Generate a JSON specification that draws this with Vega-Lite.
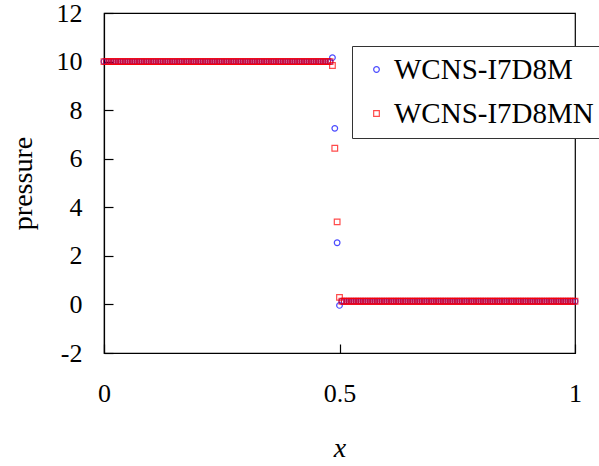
{
"$schema":"https://vega.github.io/schema/vega-lite/v6.json",
"width":471,"height":340,
"autosize":"none",
"padding":{"left":104,"top":13,"right":24,"bottom":113},
"background":"white",
"config":{"font":"Liberation Serif","view":{"stroke":"#000","strokeWidth":1.2}},
"data":{"values":[
{"x":0,"WCNS-I7D8M":10,"WCNS-I7D8MN":10},{"x":0.005,"WCNS-I7D8M":10,"WCNS-I7D8MN":10},{"x":0.01,"WCNS-I7D8M":10,"WCNS-I7D8MN":10},{"x":0.015,"WCNS-I7D8M":10,"WCNS-I7D8MN":10},{"x":0.02,"WCNS-I7D8M":10,"WCNS-I7D8MN":10},{"x":0.025,"WCNS-I7D8M":10,"WCNS-I7D8MN":10},{"x":0.03,"WCNS-I7D8M":10,"WCNS-I7D8MN":10},{"x":0.035,"WCNS-I7D8M":10,"WCNS-I7D8MN":10},{"x":0.04,"WCNS-I7D8M":10,"WCNS-I7D8MN":10},{"x":0.045,"WCNS-I7D8M":10,"WCNS-I7D8MN":10},
{"x":0.05,"WCNS-I7D8M":10,"WCNS-I7D8MN":10},{"x":0.055,"WCNS-I7D8M":10,"WCNS-I7D8MN":10},{"x":0.06,"WCNS-I7D8M":10,"WCNS-I7D8MN":10},{"x":0.065,"WCNS-I7D8M":10,"WCNS-I7D8MN":10},{"x":0.07,"WCNS-I7D8M":10,"WCNS-I7D8MN":10},{"x":0.075,"WCNS-I7D8M":10,"WCNS-I7D8MN":10},{"x":0.08,"WCNS-I7D8M":10,"WCNS-I7D8MN":10},{"x":0.085,"WCNS-I7D8M":10,"WCNS-I7D8MN":10},{"x":0.09,"WCNS-I7D8M":10,"WCNS-I7D8MN":10},{"x":0.095,"WCNS-I7D8M":10,"WCNS-I7D8MN":10},
{"x":0.1,"WCNS-I7D8M":10,"WCNS-I7D8MN":10},{"x":0.105,"WCNS-I7D8M":10,"WCNS-I7D8MN":10},{"x":0.11,"WCNS-I7D8M":10,"WCNS-I7D8MN":10},{"x":0.115,"WCNS-I7D8M":10,"WCNS-I7D8MN":10},{"x":0.12,"WCNS-I7D8M":10,"WCNS-I7D8MN":10},{"x":0.125,"WCNS-I7D8M":10,"WCNS-I7D8MN":10},{"x":0.13,"WCNS-I7D8M":10,"WCNS-I7D8MN":10},{"x":0.135,"WCNS-I7D8M":10,"WCNS-I7D8MN":10},{"x":0.14,"WCNS-I7D8M":10,"WCNS-I7D8MN":10},{"x":0.145,"WCNS-I7D8M":10,"WCNS-I7D8MN":10},
{"x":0.15,"WCNS-I7D8M":10,"WCNS-I7D8MN":10},{"x":0.155,"WCNS-I7D8M":10,"WCNS-I7D8MN":10},{"x":0.16,"WCNS-I7D8M":10,"WCNS-I7D8MN":10},{"x":0.165,"WCNS-I7D8M":10,"WCNS-I7D8MN":10},{"x":0.17,"WCNS-I7D8M":10,"WCNS-I7D8MN":10},{"x":0.175,"WCNS-I7D8M":10,"WCNS-I7D8MN":10},{"x":0.18,"WCNS-I7D8M":10,"WCNS-I7D8MN":10},{"x":0.185,"WCNS-I7D8M":10,"WCNS-I7D8MN":10},{"x":0.19,"WCNS-I7D8M":10,"WCNS-I7D8MN":10},{"x":0.195,"WCNS-I7D8M":10,"WCNS-I7D8MN":10},
{"x":0.2,"WCNS-I7D8M":10,"WCNS-I7D8MN":10},{"x":0.205,"WCNS-I7D8M":10,"WCNS-I7D8MN":10},{"x":0.21,"WCNS-I7D8M":10,"WCNS-I7D8MN":10},{"x":0.215,"WCNS-I7D8M":10,"WCNS-I7D8MN":10},{"x":0.22,"WCNS-I7D8M":10,"WCNS-I7D8MN":10},{"x":0.225,"WCNS-I7D8M":10,"WCNS-I7D8MN":10},{"x":0.23,"WCNS-I7D8M":10,"WCNS-I7D8MN":10},{"x":0.235,"WCNS-I7D8M":10,"WCNS-I7D8MN":10},{"x":0.24,"WCNS-I7D8M":10,"WCNS-I7D8MN":10},{"x":0.245,"WCNS-I7D8M":10,"WCNS-I7D8MN":10},
{"x":0.25,"WCNS-I7D8M":10,"WCNS-I7D8MN":10},{"x":0.255,"WCNS-I7D8M":10,"WCNS-I7D8MN":10},{"x":0.26,"WCNS-I7D8M":10,"WCNS-I7D8MN":10},{"x":0.265,"WCNS-I7D8M":10,"WCNS-I7D8MN":10},{"x":0.27,"WCNS-I7D8M":10,"WCNS-I7D8MN":10},{"x":0.275,"WCNS-I7D8M":10,"WCNS-I7D8MN":10},{"x":0.28,"WCNS-I7D8M":10,"WCNS-I7D8MN":10},{"x":0.285,"WCNS-I7D8M":10,"WCNS-I7D8MN":10},{"x":0.29,"WCNS-I7D8M":10,"WCNS-I7D8MN":10},{"x":0.295,"WCNS-I7D8M":10,"WCNS-I7D8MN":10},
{"x":0.3,"WCNS-I7D8M":10,"WCNS-I7D8MN":10},{"x":0.305,"WCNS-I7D8M":10,"WCNS-I7D8MN":10},{"x":0.31,"WCNS-I7D8M":10,"WCNS-I7D8MN":10},{"x":0.315,"WCNS-I7D8M":10,"WCNS-I7D8MN":10},{"x":0.32,"WCNS-I7D8M":10,"WCNS-I7D8MN":10},{"x":0.325,"WCNS-I7D8M":10,"WCNS-I7D8MN":10},{"x":0.33,"WCNS-I7D8M":10,"WCNS-I7D8MN":10},{"x":0.335,"WCNS-I7D8M":10,"WCNS-I7D8MN":10},{"x":0.34,"WCNS-I7D8M":10,"WCNS-I7D8MN":10},{"x":0.345,"WCNS-I7D8M":10,"WCNS-I7D8MN":10},
{"x":0.35,"WCNS-I7D8M":10,"WCNS-I7D8MN":10},{"x":0.355,"WCNS-I7D8M":10,"WCNS-I7D8MN":10},{"x":0.36,"WCNS-I7D8M":10,"WCNS-I7D8MN":10},{"x":0.365,"WCNS-I7D8M":10,"WCNS-I7D8MN":10},{"x":0.37,"WCNS-I7D8M":10,"WCNS-I7D8MN":10},{"x":0.375,"WCNS-I7D8M":10,"WCNS-I7D8MN":10},{"x":0.38,"WCNS-I7D8M":10,"WCNS-I7D8MN":10},{"x":0.385,"WCNS-I7D8M":10,"WCNS-I7D8MN":10},{"x":0.39,"WCNS-I7D8M":10,"WCNS-I7D8MN":10},{"x":0.395,"WCNS-I7D8M":10,"WCNS-I7D8MN":10},
{"x":0.4,"WCNS-I7D8M":10,"WCNS-I7D8MN":10},{"x":0.405,"WCNS-I7D8M":10,"WCNS-I7D8MN":10},{"x":0.41,"WCNS-I7D8M":10,"WCNS-I7D8MN":10},{"x":0.415,"WCNS-I7D8M":10,"WCNS-I7D8MN":10},{"x":0.42,"WCNS-I7D8M":10,"WCNS-I7D8MN":10},{"x":0.425,"WCNS-I7D8M":10,"WCNS-I7D8MN":10},{"x":0.43,"WCNS-I7D8M":10,"WCNS-I7D8MN":10},{"x":0.435,"WCNS-I7D8M":10,"WCNS-I7D8MN":10},{"x":0.44,"WCNS-I7D8M":10,"WCNS-I7D8MN":10},{"x":0.445,"WCNS-I7D8M":10,"WCNS-I7D8MN":10},
{"x":0.45,"WCNS-I7D8M":10,"WCNS-I7D8MN":10},{"x":0.455,"WCNS-I7D8M":10,"WCNS-I7D8MN":10},{"x":0.46,"WCNS-I7D8M":10,"WCNS-I7D8MN":10},{"x":0.465,"WCNS-I7D8M":10,"WCNS-I7D8MN":10},{"x":0.47,"WCNS-I7D8M":10,"WCNS-I7D8MN":10},{"x":0.475,"WCNS-I7D8M":10,"WCNS-I7D8MN":10},{"x":0.48,"WCNS-I7D8M":10,"WCNS-I7D8MN":10},{"x":0.485,"WCNS-I7D8M":10.16,"WCNS-I7D8MN":9.84},{"x":0.49,"WCNS-I7D8M":7.25,"WCNS-I7D8MN":6.43},{"x":0.495,"WCNS-I7D8M":2.54,"WCNS-I7D8MN":3.4},
{"x":0.5,"WCNS-I7D8M":-0.04,"WCNS-I7D8MN":0.29},{"x":0.505,"WCNS-I7D8M":0.13,"WCNS-I7D8MN":0.13},{"x":0.51,"WCNS-I7D8M":0.13,"WCNS-I7D8MN":0.13},{"x":0.515,"WCNS-I7D8M":0.13,"WCNS-I7D8MN":0.13},{"x":0.52,"WCNS-I7D8M":0.13,"WCNS-I7D8MN":0.13},{"x":0.525,"WCNS-I7D8M":0.13,"WCNS-I7D8MN":0.13},{"x":0.53,"WCNS-I7D8M":0.13,"WCNS-I7D8MN":0.13},{"x":0.535,"WCNS-I7D8M":0.13,"WCNS-I7D8MN":0.13},{"x":0.54,"WCNS-I7D8M":0.13,"WCNS-I7D8MN":0.13},{"x":0.545,"WCNS-I7D8M":0.13,"WCNS-I7D8MN":0.13},
{"x":0.55,"WCNS-I7D8M":0.13,"WCNS-I7D8MN":0.13},{"x":0.555,"WCNS-I7D8M":0.13,"WCNS-I7D8MN":0.13},{"x":0.56,"WCNS-I7D8M":0.13,"WCNS-I7D8MN":0.13},{"x":0.565,"WCNS-I7D8M":0.13,"WCNS-I7D8MN":0.13},{"x":0.57,"WCNS-I7D8M":0.13,"WCNS-I7D8MN":0.13},{"x":0.575,"WCNS-I7D8M":0.13,"WCNS-I7D8MN":0.13},{"x":0.58,"WCNS-I7D8M":0.13,"WCNS-I7D8MN":0.13},{"x":0.585,"WCNS-I7D8M":0.13,"WCNS-I7D8MN":0.13},{"x":0.59,"WCNS-I7D8M":0.13,"WCNS-I7D8MN":0.13},{"x":0.595,"WCNS-I7D8M":0.13,"WCNS-I7D8MN":0.13},
{"x":0.6,"WCNS-I7D8M":0.13,"WCNS-I7D8MN":0.13},{"x":0.605,"WCNS-I7D8M":0.13,"WCNS-I7D8MN":0.13},{"x":0.61,"WCNS-I7D8M":0.13,"WCNS-I7D8MN":0.13},{"x":0.615,"WCNS-I7D8M":0.13,"WCNS-I7D8MN":0.13},{"x":0.62,"WCNS-I7D8M":0.13,"WCNS-I7D8MN":0.13},{"x":0.625,"WCNS-I7D8M":0.13,"WCNS-I7D8MN":0.13},{"x":0.63,"WCNS-I7D8M":0.13,"WCNS-I7D8MN":0.13},{"x":0.635,"WCNS-I7D8M":0.13,"WCNS-I7D8MN":0.13},{"x":0.64,"WCNS-I7D8M":0.13,"WCNS-I7D8MN":0.13},{"x":0.645,"WCNS-I7D8M":0.13,"WCNS-I7D8MN":0.13},
{"x":0.65,"WCNS-I7D8M":0.13,"WCNS-I7D8MN":0.13},{"x":0.655,"WCNS-I7D8M":0.13,"WCNS-I7D8MN":0.13},{"x":0.66,"WCNS-I7D8M":0.13,"WCNS-I7D8MN":0.13},{"x":0.665,"WCNS-I7D8M":0.13,"WCNS-I7D8MN":0.13},{"x":0.67,"WCNS-I7D8M":0.13,"WCNS-I7D8MN":0.13},{"x":0.675,"WCNS-I7D8M":0.13,"WCNS-I7D8MN":0.13},{"x":0.68,"WCNS-I7D8M":0.13,"WCNS-I7D8MN":0.13},{"x":0.685,"WCNS-I7D8M":0.13,"WCNS-I7D8MN":0.13},{"x":0.69,"WCNS-I7D8M":0.13,"WCNS-I7D8MN":0.13},{"x":0.695,"WCNS-I7D8M":0.13,"WCNS-I7D8MN":0.13},
{"x":0.7,"WCNS-I7D8M":0.13,"WCNS-I7D8MN":0.13},{"x":0.705,"WCNS-I7D8M":0.13,"WCNS-I7D8MN":0.13},{"x":0.71,"WCNS-I7D8M":0.13,"WCNS-I7D8MN":0.13},{"x":0.715,"WCNS-I7D8M":0.13,"WCNS-I7D8MN":0.13},{"x":0.72,"WCNS-I7D8M":0.13,"WCNS-I7D8MN":0.13},{"x":0.725,"WCNS-I7D8M":0.13,"WCNS-I7D8MN":0.13},{"x":0.73,"WCNS-I7D8M":0.13,"WCNS-I7D8MN":0.13},{"x":0.735,"WCNS-I7D8M":0.13,"WCNS-I7D8MN":0.13},{"x":0.74,"WCNS-I7D8M":0.13,"WCNS-I7D8MN":0.13},{"x":0.745,"WCNS-I7D8M":0.13,"WCNS-I7D8MN":0.13},
{"x":0.75,"WCNS-I7D8M":0.13,"WCNS-I7D8MN":0.13},{"x":0.755,"WCNS-I7D8M":0.13,"WCNS-I7D8MN":0.13},{"x":0.76,"WCNS-I7D8M":0.13,"WCNS-I7D8MN":0.13},{"x":0.765,"WCNS-I7D8M":0.13,"WCNS-I7D8MN":0.13},{"x":0.77,"WCNS-I7D8M":0.13,"WCNS-I7D8MN":0.13},{"x":0.775,"WCNS-I7D8M":0.13,"WCNS-I7D8MN":0.13},{"x":0.78,"WCNS-I7D8M":0.13,"WCNS-I7D8MN":0.13},{"x":0.785,"WCNS-I7D8M":0.13,"WCNS-I7D8MN":0.13},{"x":0.79,"WCNS-I7D8M":0.13,"WCNS-I7D8MN":0.13},{"x":0.795,"WCNS-I7D8M":0.13,"WCNS-I7D8MN":0.13},
{"x":0.8,"WCNS-I7D8M":0.13,"WCNS-I7D8MN":0.13},{"x":0.805,"WCNS-I7D8M":0.13,"WCNS-I7D8MN":0.13},{"x":0.81,"WCNS-I7D8M":0.13,"WCNS-I7D8MN":0.13},{"x":0.815,"WCNS-I7D8M":0.13,"WCNS-I7D8MN":0.13},{"x":0.82,"WCNS-I7D8M":0.13,"WCNS-I7D8MN":0.13},{"x":0.825,"WCNS-I7D8M":0.13,"WCNS-I7D8MN":0.13},{"x":0.83,"WCNS-I7D8M":0.13,"WCNS-I7D8MN":0.13},{"x":0.835,"WCNS-I7D8M":0.13,"WCNS-I7D8MN":0.13},{"x":0.84,"WCNS-I7D8M":0.13,"WCNS-I7D8MN":0.13},{"x":0.845,"WCNS-I7D8M":0.13,"WCNS-I7D8MN":0.13},
{"x":0.85,"WCNS-I7D8M":0.13,"WCNS-I7D8MN":0.13},{"x":0.855,"WCNS-I7D8M":0.13,"WCNS-I7D8MN":0.13},{"x":0.86,"WCNS-I7D8M":0.13,"WCNS-I7D8MN":0.13},{"x":0.865,"WCNS-I7D8M":0.13,"WCNS-I7D8MN":0.13},{"x":0.87,"WCNS-I7D8M":0.13,"WCNS-I7D8MN":0.13},{"x":0.875,"WCNS-I7D8M":0.13,"WCNS-I7D8MN":0.13},{"x":0.88,"WCNS-I7D8M":0.13,"WCNS-I7D8MN":0.13},{"x":0.885,"WCNS-I7D8M":0.13,"WCNS-I7D8MN":0.13},{"x":0.89,"WCNS-I7D8M":0.13,"WCNS-I7D8MN":0.13},{"x":0.895,"WCNS-I7D8M":0.13,"WCNS-I7D8MN":0.13},
{"x":0.9,"WCNS-I7D8M":0.13,"WCNS-I7D8MN":0.13},{"x":0.905,"WCNS-I7D8M":0.13,"WCNS-I7D8MN":0.13},{"x":0.91,"WCNS-I7D8M":0.13,"WCNS-I7D8MN":0.13},{"x":0.915,"WCNS-I7D8M":0.13,"WCNS-I7D8MN":0.13},{"x":0.92,"WCNS-I7D8M":0.13,"WCNS-I7D8MN":0.13},{"x":0.925,"WCNS-I7D8M":0.13,"WCNS-I7D8MN":0.13},{"x":0.93,"WCNS-I7D8M":0.13,"WCNS-I7D8MN":0.13},{"x":0.935,"WCNS-I7D8M":0.13,"WCNS-I7D8MN":0.13},{"x":0.94,"WCNS-I7D8M":0.13,"WCNS-I7D8MN":0.13},{"x":0.945,"WCNS-I7D8M":0.13,"WCNS-I7D8MN":0.13},
{"x":0.95,"WCNS-I7D8M":0.13,"WCNS-I7D8MN":0.13},{"x":0.955,"WCNS-I7D8M":0.13,"WCNS-I7D8MN":0.13},{"x":0.96,"WCNS-I7D8M":0.13,"WCNS-I7D8MN":0.13},{"x":0.965,"WCNS-I7D8M":0.13,"WCNS-I7D8MN":0.13},{"x":0.97,"WCNS-I7D8M":0.13,"WCNS-I7D8MN":0.13},{"x":0.975,"WCNS-I7D8M":0.13,"WCNS-I7D8MN":0.13},{"x":0.98,"WCNS-I7D8M":0.13,"WCNS-I7D8MN":0.13},{"x":0.985,"WCNS-I7D8M":0.13,"WCNS-I7D8MN":0.13},{"x":0.99,"WCNS-I7D8M":0.13,"WCNS-I7D8MN":0.13},{"x":0.995,"WCNS-I7D8M":0.13,"WCNS-I7D8MN":0.13},
{"x":1,"WCNS-I7D8M":0.13,"WCNS-I7D8MN":0.13}
]},
"transform":[{"fold":["WCNS-I7D8M","WCNS-I7D8MN"],"as":["series","p"]}],
"mark":{"type":"point","filled":false,"strokeWidth":1.2,"size":32,"clip":false},
"encoding":{
"x":{"field":"x","type":"quantitative","scale":{"domain":[0,1],"nice":false,"zero":false},
 "axis":{"values":[0,0.5,1],"labelExpr":"toString(datum.value)","title":"x","titleFontStyle":"italic","titleFontSize":28,"titleFontWeight":"normal","titleColor":"#000","titlePadding":28,"labelFontSize":26,"labelColor":"#000","labelPadding":36,"tickSize":-9,"tickColor":"#000","tickWidth":1.2,"domainColor":"#000","domainWidth":1.2,"grid":false,"labelFlush":false}},
"y":{"field":"p","type":"quantitative","scale":{"domain":[-2,12],"nice":false,"zero":false},
 "axis":{"values":[-2,0,2,4,6,8,10,12],"labelExpr":"toString(datum.value)","title":"pressure","titleFontSize":28,"titleFontWeight":"normal","titleColor":"#000","titlePadding":19,"labelFontSize":26,"labelColor":"#000","labelPadding":31,"tickSize":-9,"tickColor":"#000","tickWidth":1.2,"domainColor":"#000","domainWidth":1.2,"grid":false,"labelFlush":false}},
"color":{"field":"series","type":"nominal","scale":{"domain":["WCNS-I7D8M","WCNS-I7D8MN"],"range":["#0000ff","#ff0000"]},
 "legend":{"title":null,"orient":"none","legendX":248,"legendY":33,"fillColor":"#ffffff","strokeColor":"#333333","padding":9,"symbolOffset":1,"labelOffset":3,"labelFontSize":29,"labelColor":"#000","labelLimit":400,"rowPadding":14,"symbolSize":32,"symbolStrokeWidth":1.2,"cornerRadius":0}},
"shape":{"field":"series","type":"nominal","scale":{"domain":["WCNS-I7D8M","WCNS-I7D8MN"],"range":["circle","square"]}},
"order":{"field":"series","type":"nominal"}
}
}
